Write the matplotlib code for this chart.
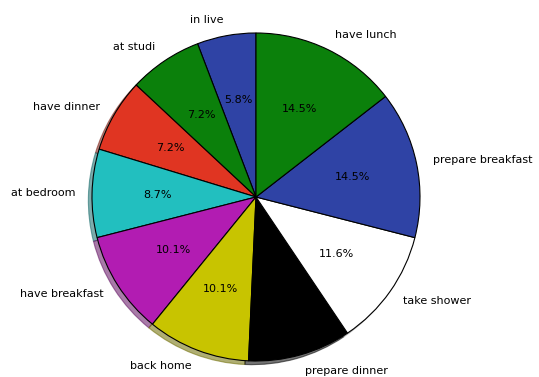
import matplotlib
matplotlib.use("Agg")
import matplotlib.pyplot as plt

# Daily activity counts, listed counter-clockwise starting from the top
labels = ["in live", "at studi", "have dinner", "at bedroom", "have breakfast",
          "back home", "prepare dinner", "take shower", "prepare breakfast",
          "have lunch"]
counts = [4, 5, 5, 6, 7, 7, 7, 8, 10, 10]
colors = ["#2f43a5", "#0b800b", "#e03522", "#22bfbf", "#b21cb2",
          "#c8c400", "#000000", "#ffffff", "#2f43a5", "#0b800b"]

W, H = 539, 377
fig = plt.figure(figsize=(W / 100, H / 100), dpi=100)

cx, cy, R, L = 256, 197, 164, 1.25
side = 2 * R * L
ax = fig.add_axes([(cx - R * L) / W, (H - cy - R * L) / H, side / W, side / H])

ax.pie(counts, labels=labels, colors=colors, autopct="%1.1f%%",
       startangle=90,
       shadow=dict(ox=-0.016, oy=-0.016, shade=0.45, alpha=0.55),
       labeldistance=1.1, pctdistance=0.6,
       wedgeprops=dict(edgecolor="black", linewidth=0.8),
       textprops=dict(fontsize=8, color="black"))
ax.set_xlim(-L, L)
ax.set_ylim(-L, L)
ax.set_aspect("equal")

fig.savefig("out.png", dpi=100)
